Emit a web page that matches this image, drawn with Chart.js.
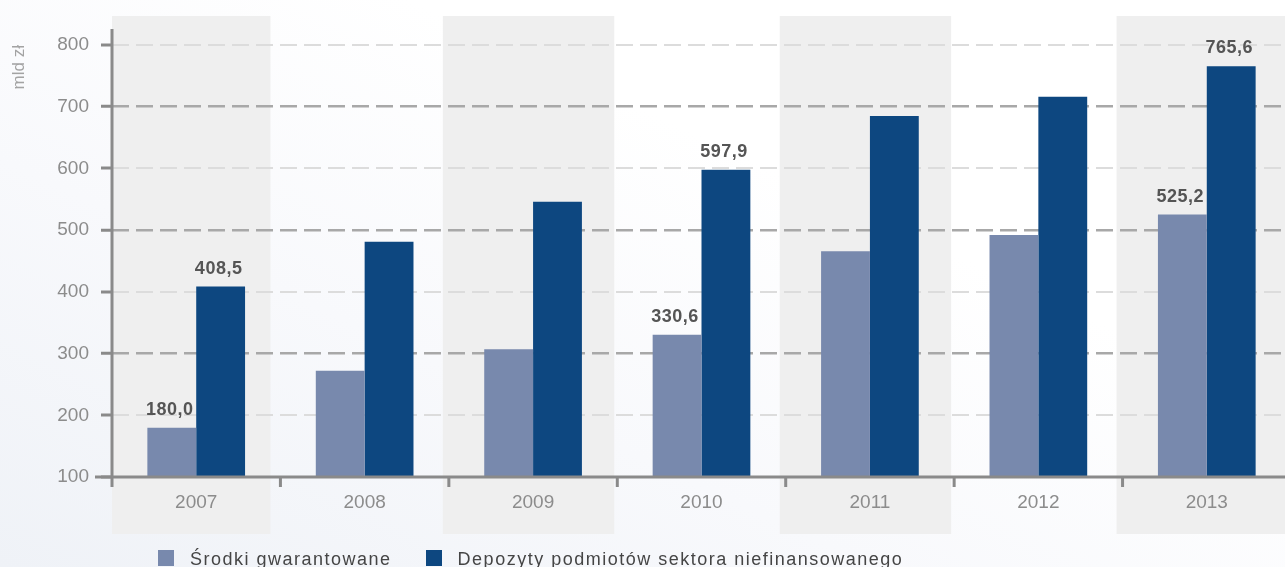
<!DOCTYPE html>
<html>
<head>
<meta charset="utf-8">
<script src="https://cdn.jsdelivr.net/npm/chart.js@4.4.1/dist/chart.umd.min.js"></script>
<style>
  html, body { margin: 0; padding: 0; width: 1285px; height: 567px; overflow: hidden; }
  body {
    position: relative;
    font-family: "Liberation Sans", Arial, sans-serif;
    background: linear-gradient(25deg, #eff2f7 0%, #f8f9fc 35%, #ffffff 65%);
  }
  #chart { position: absolute; left: 0; top: 0; }
  #legend {
    position: absolute; left: 158px; top: 549px;
    font-size: 18px; letter-spacing: 1.5px; color: #454545; white-space: nowrap;
  }
  #legend span.item { display: inline-block; margin-right: 34px; }
  #legend span.box { display: inline-block; width: 16px; height: 16px; margin-right: 16px; vertical-align: -1px; }
</style>
</head>
<body>
<canvas id="chart" width="1291" height="567"></canvas>
<div id="legend"></div>
<script>
const years = ['2007', '2008', '2009', '2010', '2011', '2012', '2013'];
const guaranteed = [180.0, 272, 307, 330.6, 466, 492, 525.2];
const deposits = [408.5, 481, 546, 597.9, 685, 716, 765.6];
const seriesNames = ['Środki gwarantowane', 'Depozyty podmiotów sektora niefinansowanego'];
const seriesColors = ['#7889ad', '#0d4780'];
const labelledYears = ['2007', '2010', '2013'];
const yTicks = [100, 200, 300, 400, 500, 600, 700, 800];
const strongLines = [300, 500, 700];

const FONT = '"Liberation Sans", Arial, sans-serif';

// light grey bands behind every other year, drawn from the x scale
const bands = {
    id: 'bands',
    beforeDraw(chart) {
        const ctx = chart.ctx, x = chart.scales.x, area = chart.chartArea;
        const slot = x.getPixelForValue(1) - x.getPixelForValue(0);
        ctx.save();
        ctx.fillStyle = '#efefef';
        years.forEach((y, i) => {
            if (i % 2) return;
            const c = x.getPixelForValue(i);
            let l = Math.max(c - slot / 2 - 6, area.left);
            let r = c + slot / 2 - (i === 0 ? 10 : 3);
            ctx.fillRect(l, area.top - 29, r - l, area.bottom - area.top + 86);
        });
        ctx.restore();
    }
};

// axis lines and category ticks
const frame = {
    id: 'frame',
    afterDatasetsDraw(chart) {
        const ctx = chart.ctx, x = chart.scales.x, area = chart.chartArea;
        const slot = x.getPixelForValue(1) - x.getPixelForValue(0);
        ctx.save();
        ctx.strokeStyle = '#8a8a8a';
        ctx.lineWidth = 3;
        ctx.beginPath();
        ctx.moveTo(area.left - 17, area.bottom);
        ctx.lineTo(chart.width, area.bottom);
        ctx.moveTo(area.left, area.top - 16);
        ctx.lineTo(area.left, area.bottom + 10);
        for (let i = 1; i < years.length; i++) {
            const b = x.getPixelForValue(i) - slot / 2;
            ctx.moveTo(b, area.bottom);
            ctx.lineTo(b, area.bottom + 10);
        }
        ctx.stroke();
        ctx.restore();
    }
};

// value labels above the chosen bars
const valueLabels = {
    id: 'valueLabels',
    afterDatasetsDraw(chart) {
        const ctx = chart.ctx;
        ctx.save();
        ctx.font = 'bold 18px ' + FONT;
        ctx.fillStyle = '#555555';
        ctx.textAlign = 'center';
        ctx.textBaseline = 'alphabetic';
        if ('letterSpacing' in ctx) ctx.letterSpacing = '0.5px';
        chart.data.datasets.forEach((ds, d) => {
            const meta = chart.getDatasetMeta(d);
            years.forEach((y, i) => {
                if (!labelledYears.includes(y)) return;
                const bar = meta.data[i];
                const txt = ds.data[i].toFixed(1).replace('.', ',');
                ctx.fillText(txt, bar.x - 2, bar.y - 13);
            });
        });
        ctx.restore();
    }
};

new Chart(document.getElementById('chart'), {
    type: 'bar',
    data: {
        labels: years,
        datasets: [
            { label: seriesNames[0], data: guaranteed, backgroundColor: seriesColors[0] },
            { label: seriesNames[1], data: deposits, backgroundColor: seriesColors[1] }
        ]
    },
    options: {
        responsive: false,
        animation: false,
        devicePixelRatio: 1,
        layout: { padding: { top: 45, left: 0, right: 0, bottom: 0 } },
        datasets: { bar: { categoryPercentage: 0.58, barPercentage: 1.0 } },
        plugins: {
            legend: { display: false },
            tooltip: { enabled: false }
        },
        scales: {
            x: {
                grid: { display: false, drawTicks: false },
                border: { display: false },
                ticks: { color: '#8c8c8c', font: { family: FONT, size: 19 }, padding: 14 },
                afterFit(scale) { scale.height = 90; }
            },
            y: {
                min: 100,
                max: 800,
                afterBuildTicks(scale) { scale.ticks = yTicks.map(v => ({ value: v })); },
                afterFit(scale) { scale.width = 112; },
                border: { display: false, dash: [17, 7] },
                grid: {
                    drawTicks: true,
                    tickLength: 11,
                    tickWidth: 3,
                    tickColor: '#8a8a8a',
                    tickBorderDash: [],
                    color: c => c.tick.value === 100 ? 'rgba(0,0,0,0)' :
                        (strongLines.includes(c.tick.value) ? '#a8a8a8' : '#dcdcdc'),
                    lineWidth: c => strongLines.includes(c.tick.value) ? 2.5 : 2
                },
                ticks: {
                    color: '#8c8c8c',
                    font: { family: FONT, size: 19 },
                    padding: 12
                },
                title: {
                    display: true,
                    text: 'mld zł',
                    align: 'end',
                    color: '#a3a3a3',
                    font: { family: FONT, size: 17 },
                    padding: { top: 9, bottom: 0 }
                }
            }
        }
    },
    plugins: [bands, frame, valueLabels]
});

const legend = document.getElementById('legend');
seriesNames.forEach((name, i) => {
    const item = document.createElement('span');
    item.className = 'item';
    const box = document.createElement('span');
    box.className = 'box';
    box.style.background = seriesColors[i];
    item.appendChild(box);
    item.appendChild(document.createTextNode(name));
    legend.appendChild(item);
});
</script>
</body>
</html>
